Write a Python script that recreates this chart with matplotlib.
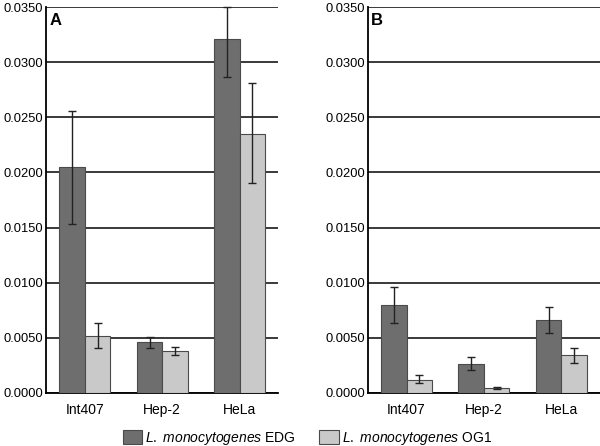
import matplotlib
matplotlib.use("Agg")
import matplotlib.pyplot as plt
import numpy as np

plt.rcParams["font.family"] = ["Liberation Sans", "DejaVu Sans"]
plt.rcParams["mathtext.fontset"] = "custom"
plt.rcParams["mathtext.it"] = "Liberation Sans:italic"
plt.rcParams["mathtext.rm"] = "Liberation Sans"

cells = ["Int407", "Hep-2", "HeLa"]
series = ["EDG", "OG1"]

# panel A
a_edg = [0.0205, 0.0046, 0.0321]
a_edg_lo = [0.0153, 0.0041, 0.0287]
a_edg_hi = [0.0256, 0.0051, 0.0350]
a_og1 = [0.0052, 0.0038, 0.0235]
a_og1_lo = [0.0041, 0.0034, 0.0190]
a_og1_hi = [0.0063, 0.0042, 0.0281]

# panel B
b_edg = [0.0080, 0.0026, 0.0066]
b_edg_lo = [0.0063, 0.0021, 0.0054]
b_edg_hi = [0.0096, 0.0033, 0.0078]
b_og1 = [0.0012, 0.00045, 0.0034]
b_og1_lo = [0.0009, 0.0004, 0.0027]
b_og1_hi = [0.0016, 0.0005, 0.0041]

colors = ["#6e6e6e", "#c9c9c9"]
edge = "#4a4a4a"
yticks = np.arange(0, 0.0351, 0.005)


def draw_panel(ax, edg, edg_lo, edg_hi, og1, og1_lo, og1_hi, label):
    x = np.arange(len(cells))
    w = 0.33
    data = [(edg, edg_lo, edg_hi), (og1, og1_lo, og1_hi)]
    bars = []
    for i, (vals, lo, hi) in enumerate(data):
        vals = np.array(vals)
        err = [vals - np.array(lo), np.array(hi) - vals]
        pos = x - w / 2 + i * w
        b = ax.bar(pos, vals, w, color=colors[i], edgecolor=edge,
                   linewidth=0.8, zorder=3)
        ax.errorbar(pos, vals, yerr=err, fmt="none", ecolor="#222222",
                    elinewidth=1.0, capsize=3, capthick=1.0, zorder=4,
                    clip_on=False)
        bars.append(b)
    ax.set_xlim(-0.5, 2.5)
    ax.set_ylim(0, 0.035)
    ax.set_yticks(yticks)
    ax.set_yticklabels([f"{t:.4f}" for t in yticks])
    ax.set_xticks(x)
    ax.set_xticklabels(cells)
    ax.tick_params(axis="y", length=0, labelsize=9.3, pad=2)
    ax.tick_params(axis="x", length=0, labelsize=10, pad=7)
    ax.yaxis.grid(True, color="#2a2a2a", linewidth=1.3, zorder=0)
    ax.set_axisbelow(True)
    for s in ["top", "right"]:
        ax.spines[s].set_visible(False)
    ax.spines["left"].set_linewidth(1.3)
    ax.spines["bottom"].set_linewidth(1.3)
    ax.text(0.015, 0.985, label, transform=ax.transAxes, fontsize=12,
            fontweight="bold", va="top", ha="left")
    return bars


fig = plt.figure(figsize=(6.0, 4.46), dpi=100)
ax_a = fig.add_axes([0.077, 0.119, 0.387, 0.865])
ax_b = fig.add_axes([0.613, 0.119, 0.387, 0.865])

bars = draw_panel(ax_a, a_edg, a_edg_lo, a_edg_hi, a_og1, a_og1_lo, a_og1_hi, "A")
draw_panel(ax_b, b_edg, b_edg_lo, b_edg_hi, b_og1, b_og1_lo, b_og1_hi, "B")

labels = [r"$\it{L.}$ $\it{monocytogenes}$ " + s for s in series]
fig.legend(bars, labels, loc="lower center", bbox_to_anchor=(0.512, -0.03),
           ncol=2, frameon=False, fontsize=10, handlelength=1.4,
           handleheight=1.1, handletextpad=0.2, columnspacing=1.7)

fig.savefig("out.png", dpi=100)
